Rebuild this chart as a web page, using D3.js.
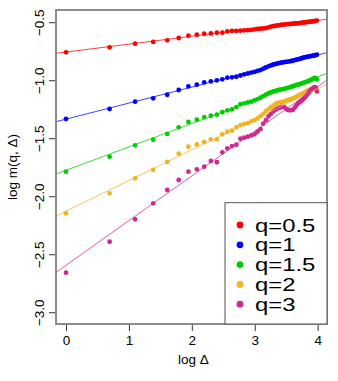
<!DOCTYPE html>
<html><head><meta charset="utf-8">
<script src="https://cdn.jsdelivr.net/npm/d3@7"></script>
<style>body{margin:0;background:#fff}svg{display:block;font-family:"Liberation Sans",Arial,Helvetica,sans-serif}</style>
</head><body><svg id="c" width="338" height="381"></svg>
<script>
// Δ values (x = log Δ)
const deltas = [1,2,3,4,5,6,7,8,9,10,11,12,13,14,15,16,17,18,19,20,21,22,23,24,25,26,27,28,29,30,31,32,33,34,35,36,37,38,39,40,41,42,43,44,45,46,47,48,49,50,51,52,53,54];
const seriesNames = ["q=0.5","q=1","q=1.5","q=2","q=3"];
const seriesColors = ["#ff0000","#0000ff","#00cd00","#eeb422","#cd2990"];
const q05 = [-0.755,-0.712,-0.681,-0.666,-0.652,-0.632,-0.612,-0.603,-0.595,-0.592,-0.586,-0.586,-0.575,-0.571,-0.571,
  -0.569,-0.566,-0.564,-0.562,-0.558,-0.554,-0.552,-0.549,-0.546,-0.540,-0.533,-0.530,-0.526,-0.524,-0.521,-0.517,-0.516,-0.514,-0.512,-0.511,-0.510,-0.508,-0.507,-0.506,-0.505,-0.503,-0.502,-0.500,-0.498,-0.497,-0.495,-0.493,-0.492,-0.490,-0.489,-0.488,-0.486,-0.484,-0.482];
const q1 = [-1.330,-1.244,-1.181,-1.152,-1.121,-1.080,-1.048,-1.034,-1.014,-1.005,-0.997,-0.988,-0.974,-0.971,-0.966,
  -0.955,-0.945,-0.938,-0.930,-0.924,-0.915,-0.908,-0.897,-0.886,-0.876,-0.868,-0.860,-0.855,-0.850,-0.846,-0.842,-0.840,-0.837,-0.835,-0.833,-0.830,-0.826,-0.822,-0.819,-0.816,-0.812,-0.808,-0.804,-0.800,-0.797,-0.794,-0.792,-0.790,-0.788,-0.786,-0.784,-0.782,-0.779,-0.776];
const q15 = [-1.784,-1.655,-1.557,-1.509,-1.459,-1.402,-1.356,-1.336,-1.313,-1.302,-1.293,-1.272,-1.255,-1.247,-1.227,
  -1.203,-1.195,-1.188,-1.181,-1.170,-1.158,-1.147,-1.133,-1.120,-1.108,-1.100,-1.093,-1.087,-1.082,-1.077,-1.074,-1.071,-1.066,-1.061,-1.057,-1.052,-1.047,-1.042,-1.037,-1.034,-1.030,-1.025,-1.020,-1.016,-1.012,-1.008,-1.003,-0.998,-0.993,-0.988,-0.982,-0.976,-0.978,-0.988];
const q2 = [-2.143,-1.971,-1.841,-1.768,-1.700,-1.629,-1.569,-1.550,-1.528,-1.505,-1.505,-1.462,-1.440,-1.431,-1.402,
  -1.382,-1.375,-1.365,-1.350,-1.339,-1.325,-1.306,-1.285,-1.262,-1.245,-1.228,-1.214,-1.200,-1.192,-1.186,-1.183,-1.180,-1.174,-1.168,-1.162,-1.158,-1.153,-1.145,-1.137,-1.130,-1.123,-1.117,-1.111,-1.105,-1.097,-1.090,-1.083,-1.076,-1.072,-1.068,-1.066,-1.066,-1.072,-1.080];
const q3 = [-2.655,-2.388,-2.195,-2.057,-1.942,-1.856,-1.784,-1.764,-1.741,-1.692,-1.703,-1.617,-1.583,-1.563,-1.552,
  -1.500,-1.490,-1.482,-1.472,-1.462,-1.440,-1.418,-1.370,-1.340,-1.308,-1.285,-1.265,-1.250,-1.238,-1.232,-1.226,-1.226,-1.240,-1.252,-1.255,-1.253,-1.250,-1.230,-1.212,-1.195,-1.185,-1.175,-1.165,-1.152,-1.138,-1.124,-1.110,-1.095,-1.082,-1.072,-1.063,-1.055,-1.060,-1.092];
// fitted regression lines (intercept, slope)
const fitIntercepts = [-0.753,-1.331,-1.772,-2.124,-2.591];
const fitSlopes = [0.068,0.138,0.2014,0.264,0.385];
const xTicks = [0,1,2,3,4];
const yTicks = [-0.5,-1.0,-1.5,-2.0,-2.5,-3.0];

const series = [q05,q1,q15,q2,q3];
const svg = d3.select("#c");
const L=56, R=327, T=10, B=324;
const x = d3.scaleLinear().domain([-0.159,4.149]).range([L,R]);
const y = d3.scaleLinear().domain([-3.097,-0.3905]).range([B,T]);

svg.append("defs").append("clipPath").attr("id","clip")
  .append("rect").attr("x",L).attr("y",T).attr("width",R-L).attr("height",B-T);

const g = svg.append("g").attr("clip-path","url(#clip)");
series.forEach((s,i)=>{
  g.append("g").selectAll("circle").data(s).join("circle")
    .attr("cx",(d,j)=>x(Math.log(deltas[j]))).attr("cy",d=>y(d))
    .attr("r",2.4).attr("fill",seriesColors[i]);
});
series.forEach((s,i)=>{
  const xd = x.domain();
  g.append("line")
    .attr("x1",x(xd[0])).attr("y1",y(fitIntercepts[i]+fitSlopes[i]*xd[0]))
    .attr("x2",x(xd[1])).attr("y2",y(fitIntercepts[i]+fitSlopes[i]*xd[1]))
    .attr("stroke",seriesColors[i]).attr("stroke-width",1).attr("opacity",0.75);
});

// axes
const xa = svg.append("g").attr("transform",`translate(0,${B})`)
  .call(d3.axisBottom(x).tickValues(xTicks).tickFormat(d3.format("d")).tickSize(7).tickPadding(4));
const ya = svg.append("g").attr("transform",`translate(${L},0)`)
  .call(d3.axisLeft(y).tickValues(yTicks).tickFormat(d=>d3.format(".1f")(d).replace("-","\u2212")).tickSize(7).tickPadding(4));
[xa,ya].forEach(a=>{a.select(".domain").remove();a.selectAll("line").attr("stroke","#333");a.selectAll("text").attr("font-size",13.5).attr("fill","#000").attr("font-family","'Liberation Sans',Arial,sans-serif");});
ya.selectAll("text").attr("text-anchor","middle").attr("dy",null)
  .attr("transform",d=>`translate(-17,${y(d)}) rotate(-90)`).attr("x",0).attr("y",0)
  .attr("dominant-baseline","central");
ya.selectAll(".tick").attr("transform","translate(0,0)");
ya.selectAll(".tick line").attr("y1",d=>y(d)).attr("y2",d=>y(d));

// frame
svg.append("rect").attr("x",L).attr("y",T).attr("width",R-L).attr("height",B-T)
  .attr("fill","none").attr("stroke","#808080").attr("stroke-width",1.8);

// axis titles
svg.append("text").attr("x",(L+R)/2 + 2).attr("y",364).attr("text-anchor","middle")
  .attr("font-size",13.5).text("log \u0394");
svg.append("text").attr("transform",`translate(17,${(T+B)/2}) rotate(-90)`).attr("text-anchor","middle")
  .attr("font-size",13.5).text("log m(q, \u0394)");

// legend
const lg = svg.append("g");
lg.append("rect").attr("x",225).attr("y",202.7).attr("width",R-225).attr("height",B-202.7)
  .attr("fill","#fff").attr("stroke","#555").attr("stroke-width",1);
seriesNames.forEach((n,i)=>{
  const cy = 225 + i*19.8;
  lg.append("circle").attr("cx",240).attr("cy",cy).attr("r",3.4).attr("fill",seriesColors[i]);
  lg.append("text").attr("transform",`translate(255,${cy+6.6}) scale(1.29,1)`)
    .attr("font-size",18.5).attr("fill","#000").text(n);
});
</script></body></html>
